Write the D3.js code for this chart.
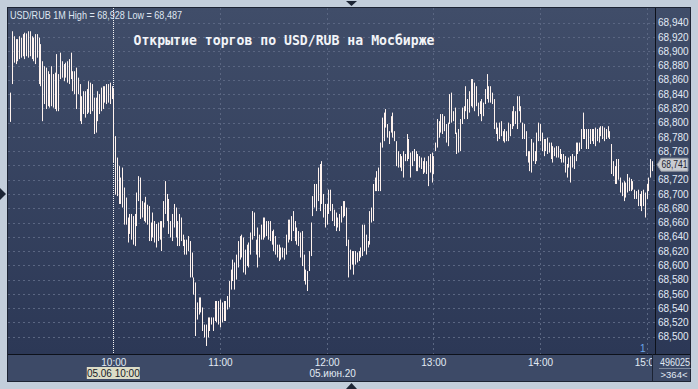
<!DOCTYPE html>
<html>
<head>
<meta charset="utf-8">
<script src="https://cdn.jsdelivr.net/npm/d3@7"></script>
<style>
  body { margin: 0; background: #c3cedb; }
  svg { display: block; }
</style>
</head>
<body>
<svg width="698" height="389"></svg>
<script>
// 1-minute bars, USD/RUB_TOM, high / low of each bar
const highs = [
  68.842,68.928,68.921,68.917,68.917,68.921,68.919,68.924,68.926,68.925,
  68.928,68.928,68.921,68.919,68.924,68.924,68.919,68.910,68.886,68.879,
  68.877,68.872,68.868,68.879,68.868,68.870,68.896,68.868,68.898,68.886,
  68.882,68.884,68.886,68.889,68.898,68.872,68.872,68.877,68.863,68.854,
  68.837,68.844,68.844,68.847,68.858,68.856,68.854,68.835,68.835,68.844,
  68.840,68.849,68.851,68.851,68.854,68.854,68.856,68.851,68.847,68.781,
  68.751,68.739,68.723,68.737,68.709,68.695,68.667,68.672,68.672,68.669,
  68.672,68.702,68.725,68.723,68.690,68.688,68.696,68.685,68.683,68.660,
  68.674,68.662,68.658,68.660,68.662,68.662,68.690,68.718,68.700,68.693,
  68.662,68.672,68.686,68.681,68.662,68.672,68.667,68.643,68.636,68.636,
  68.641,68.634,68.618,68.583,68.576,68.548,68.555,68.555,68.541,68.517,
  68.517,68.527,68.527,68.527,68.527,68.550,68.550,68.550,68.552,68.548,
  68.550,68.550,68.557,68.578,68.594,68.608,68.604,68.615,68.634,68.641,
  68.643,68.639,68.622,68.629,68.632,68.646,68.676,68.674,68.636,68.653,
  68.643,68.657,68.667,68.667,68.662,68.662,68.662,68.648,68.650,68.641,
  68.629,68.629,68.625,68.625,68.624,68.643,68.664,68.664,68.669,68.676,
  68.662,68.653,68.648,68.646,68.648,68.615,68.594,68.592,68.620,68.660,
  68.697,68.714,68.714,68.737,68.742,68.746,68.700,68.686,68.686,68.706,
  68.706,68.686,68.678,68.674,68.667,68.672,68.683,68.690,68.690,68.681,
  68.636,68.622,68.620,68.620,68.620,68.618,68.620,68.625,68.657,68.657,
  68.643,68.634,68.676,68.681,68.714,68.723,68.732,68.737,68.772,68.807,
  68.814,68.819,68.798,68.788,68.809,68.814,68.788,68.774,68.760,68.756,
  68.753,68.760,68.756,68.784,68.777,68.758,68.760,68.763,68.760,68.756,
  68.753,68.751,68.746,68.751,68.746,68.753,68.756,68.758,68.753,68.772,
  68.805,68.802,68.812,68.812,68.809,68.798,68.800,68.840,68.842,68.816,
  68.821,68.786,68.791,68.805,68.821,68.823,68.851,68.833,68.844,68.861,
  68.861,68.856,68.851,68.828,68.830,68.833,68.828,68.847,68.868,68.851,
  68.851,68.842,68.833,68.800,68.793,68.800,68.802,68.788,68.791,68.788,
  68.800,68.798,68.816,68.823,68.816,68.837,68.837,68.823,68.800,68.798,
  68.788,68.760,68.760,68.777,68.772,68.760,68.786,68.800,68.798,68.786,
  68.777,68.777,68.779,68.772,68.772,68.767,68.765,68.767,68.767,68.763,
  68.756,68.756,68.753,68.742,68.751,68.753,68.756,68.753,68.772,68.772,
  68.772,68.791,68.814,68.791,68.791,68.791,68.791,68.791,68.791,68.793,
  68.791,68.793,68.795,68.795,68.793,68.791,68.795,68.788,68.770,68.746,
  68.739,68.749,68.749,68.723,68.716,68.718,68.716,68.728,68.723,68.721,
  68.718,68.706,68.704,68.706,68.700,68.704,68.706,68.702,68.714,68.723,
  68.749,68.746
];
const lows = [
  68.801,68.854,68.884,68.882,68.886,68.889,68.891,68.893,68.889,68.893,
  68.891,68.893,68.889,68.886,68.882,68.891,68.854,68.851,68.802,68.826,
  68.819,68.823,68.821,68.823,68.821,68.819,68.816,68.816,68.861,68.863,
  68.858,68.863,68.856,68.854,68.861,68.844,68.840,68.819,68.840,68.802,
  68.798,68.812,68.807,68.812,68.814,68.812,68.816,68.784,68.786,68.802,
  68.812,68.816,68.819,68.828,68.826,68.828,68.826,68.833,68.744,68.699,
  68.697,68.686,68.686,68.681,68.657,68.657,68.632,68.644,68.636,68.629,
  68.627,68.655,68.690,68.665,68.667,68.662,68.660,68.657,68.634,68.634,
  68.639,68.632,68.625,68.634,68.636,68.620,68.653,68.672,68.662,68.644,
  68.639,68.634,68.653,68.639,68.627,68.627,68.634,68.627,68.615,68.615,
  68.620,68.583,68.583,68.559,68.501,68.524,68.531,68.534,68.508,68.499,
  68.487,68.499,68.508,68.517,68.508,68.522,68.520,68.517,68.513,68.520,
  68.522,68.522,68.538,68.541,68.566,68.578,68.566,68.580,68.597,68.608,
  68.611,68.590,68.587,68.599,68.597,68.615,68.636,68.641,68.615,68.597,
  68.611,68.636,68.636,68.639,68.641,68.636,68.634,68.629,68.620,68.615,
  68.611,68.606,68.608,68.611,68.608,68.615,68.632,68.636,68.634,68.648,
  68.634,68.629,68.627,68.611,68.599,68.578,68.573,68.564,68.592,68.613,
  68.669,68.681,68.676,68.690,68.676,68.686,68.667,68.653,68.657,68.672,
  68.676,68.662,68.655,68.648,68.653,68.648,68.660,68.667,68.669,68.627,
  68.583,68.594,68.601,68.587,68.601,68.604,68.606,68.611,68.613,68.620,
  68.615,68.625,68.629,68.660,68.662,68.704,68.704,68.704,68.704,68.765,
  68.774,68.793,68.779,68.770,68.786,68.779,68.774,68.739,68.737,68.737,
  68.732,68.723,68.746,68.746,68.749,68.723,68.739,68.746,68.732,68.732,
  68.737,68.735,68.728,68.730,68.728,68.711,68.730,68.716,68.728,68.760,
  68.765,68.779,68.786,68.784,68.788,68.772,68.767,68.798,68.800,68.802,
  68.784,68.756,68.758,68.760,68.798,68.805,68.816,68.805,68.814,68.823,
  68.821,68.816,68.823,68.809,68.812,68.802,68.809,68.826,68.833,68.828,
  68.828,68.826,68.791,68.784,68.774,68.777,68.781,68.774,68.772,68.774,
  68.774,68.781,68.791,68.795,68.798,68.791,68.816,68.800,68.777,68.777,
  68.753,68.744,68.732,68.730,68.746,68.742,68.746,68.774,68.774,68.760,
  68.753,68.760,68.756,68.758,68.749,68.744,68.753,68.751,68.751,68.749,
  68.744,68.744,68.730,68.723,68.737,68.716,68.737,68.735,68.746,68.756,
  68.760,68.763,68.777,68.777,68.763,68.763,68.770,68.774,68.770,68.767,
  68.774,68.772,68.781,68.777,68.774,68.777,68.779,68.777,68.728,68.725,
  68.714,68.714,68.720,68.702,68.697,68.690,68.695,68.702,68.704,68.704,
  68.706,68.693,68.693,68.683,68.683,68.676,68.683,68.667,68.693,68.704,
  68.723,68.732
];
// minutes relative to the 10:00 open; the first bars are the previous session
const firstMinute = -58;
const lastPrice = 68.741;

const priceTicks = [68.50, 68.52, 68.54, 68.56, 68.58, 68.60, 68.62, 68.64, 68.66, 68.68,
                    68.70, 68.72, 68.74, 68.76, 68.78, 68.80, 68.82, 68.84, 68.86, 68.88,
                    68.90, 68.92, 68.94];
const timeTicks = [0, 60, 120, 180, 240, 300];
const timeLabels = ["10:00", "11:00", "12:00", "13:00", "14:00", "15:00"];
const sessionLabel = "05.06 10:00";
const dateLabel = "05.июн.20";
const chartTitle = "Открытие торгов по USD/RUB на Мосбирже";
const barsCount = "496025";
const barsShown = ">364<";

const svg = d3.select("svg");
const font = "'Liberation Sans', Arial, sans-serif";
const fmt = d => d3.format(".3f")(d).replace(".", ",");

const pL = 8, pT = 8, pR = 655, pB = 354, panelR = 690, panelB = 381;

const x = d3.scaleLinear()
    .domain([firstMinute, firstMinute + highs.length - 1])
    .range([10.2, 652]);
const y = d3.scaleLinear()
    .domain([68.50, 68.94])
    .range([336.7, 22.7]);

// background
const defs = svg.append("defs");
const grad = defs.append("linearGradient")
    .attr("id", "bg").attr("x1", 0).attr("y1", 0).attr("x2", 0).attr("y2", 1);
grad.append("stop").attr("offset", "0%").attr("stop-color", "#404d69");
grad.append("stop").attr("offset", "100%").attr("stop-color", "#2c3856");
defs.append("clipPath").attr("id", "plotclip")
    .append("rect").attr("x", pL).attr("y", pT).attr("width", pR - pL).attr("height", pB - pT);
// in the translated axis group's own coordinates
defs.append("clipPath").attr("id", "xclip")
    .append("rect").attr("x", pL).attr("y", 0).attr("width", 652 - pL).attr("height", panelB - pB);

svg.append("rect").attr("width", 698).attr("height", 389).attr("fill", "#c3cedb");
svg.append("rect").attr("x", pL).attr("y", pT)
    .attr("width", panelR - pL).attr("height", pB - pT).attr("fill", "url(#bg)");
svg.append("rect").attr("x", pL).attr("y", pB)
    .attr("width", panelR - pL).attr("height", panelB - pB).attr("fill", "#3d4a67");

// frame lines
svg.append("rect").attr("x", pL - 0.5).attr("y", pT - 0.5)
    .attr("width", panelR - pL + 1).attr("height", panelB - pT + 1)
    .attr("fill", "none").attr("stroke", "#1c2333");
svg.append("line").attr("x1", pL).attr("x2", panelR).attr("y1", pB + 0.5).attr("y2", pB + 0.5)
    .attr("stroke", "#0d111a");
svg.append("line").attr("x1", pR + 0.5).attr("x2", pR + 0.5).attr("y1", pT).attr("y2", pB)
    .attr("stroke", "#0d111a");
svg.append("line").attr("x1", 652.5).attr("x2", 652.5).attr("y1", pB).attr("y2", panelB)
    .attr("stroke", "#1c2333");

// grid
const grid = svg.append("g").attr("clip-path", "url(#plotclip)");
grid.selectAll("line.h").data(priceTicks).enter().append("line")
    .attr("x1", pL).attr("x2", pR)
    .attr("y1", d => Math.round(y(d)) + 0.5).attr("y2", d => Math.round(y(d)) + 0.5)
    .attr("stroke", "#5a6682").attr("stroke-dasharray", "2,3");
grid.selectAll("line.v").data(timeTicks.slice(1)).enter().append("line")
    .attr("x1", d => Math.round(x(d)) + 0.5).attr("x2", d => Math.round(x(d)) + 0.5)
    .attr("y1", pT).attr("y2", pB)
    .attr("stroke", "#5a6682").attr("stroke-dasharray", "2,3");
grid.append("line")
    .attr("x1", Math.round(x(0)) + 0.5).attr("x2", Math.round(x(0)) + 0.5)
    .attr("y1", pT).attr("y2", pB)
    .attr("stroke", "#f4f4f4").attr("stroke-dasharray", "1,1");

// bars
const bars = highs.map((h, i) => ({ t: firstMinute + i, high: h, low: lows[i] }));
svg.append("g").attr("clip-path", "url(#plotclip)")
    .selectAll("line").data(bars).enter().append("line")
    .attr("x1", d => Math.round(x(d.t)) + 0.5).attr("x2", d => Math.round(x(d.t)) + 0.5)
    .attr("y1", d => y(d.high)).attr("y2", d => Math.max(y(d.low), y(d.high) + 1))
    .attr("stroke", "#fff3ee").attr("stroke-width", 1);

// price axis (the tick under the last-price marker is hidden by it)
const yAxis = svg.append("g").attr("transform", `translate(${pR + 1},0)`)
    .call(d3.axisRight(y)
        .tickValues(priceTicks.filter(d => Math.abs(y(d) - y(lastPrice)) > 8))
        .tickSize(0).tickPadding(2).tickFormat(fmt));
yAxis.select(".domain").remove();
yAxis.selectAll("text").attr("fill", "#e2eaf5").style("font-family", font).style("font-size", "10px");

// time axis
const xAxis = svg.append("g").attr("transform", `translate(0,${pB})`).attr("clip-path", "url(#xclip)")
    .call(d3.axisBottom(x).tickValues(timeTicks).tickSize(0).tickPadding(5).tickFormat((d, i) => timeLabels[i]));
xAxis.select(".domain").remove();
xAxis.selectAll("text").attr("fill", "#e2eaf5").style("font-family", font).style("font-size", "10px");

// session start label
svg.append("rect").attr("x", x(0) - 26.5).attr("y", 367).attr("width", 53).attr("height", 12)
    .attr("fill", "#dcdcc7");
svg.append("text").attr("x", x(0)).attr("y", 377).attr("text-anchor", "middle")
    .attr("fill", "#161b26").style("font-family", font).style("font-size", "10px").text(sessionLabel);
svg.append("text").attr("x", x(120) + 6).attr("y", 377).attr("text-anchor", "middle")
    .attr("fill", "#e2eaf5").style("font-family", font).style("font-size", "10px").text(dateLabel);

// last price marker
const ly = y(lastPrice);
svg.append("path")
    .attr("d", `M${pR + 2},${ly} L${pR + 6},${ly - 6.5} L${pR + 33},${ly - 6.5} L${pR + 33},${ly + 6.5} L${pR + 6},${ly + 6.5} Z`)
    .attr("fill", "#c9ccd2").attr("stroke", "#8d929c");
svg.append("text").attr("x", pR + 6.5).attr("y", ly + 3.6)
    .attr("textLength", 26).attr("lengthAdjust", "spacingAndGlyphs")
    .attr("fill", "#1d2330").style("font-family", font).style("font-size", "10px").text(fmt(lastPrice));

// header texts
svg.append("text").attr("x", 10).attr("y", 18.5)
    .attr("textLength", 172).attr("lengthAdjust", "spacingAndGlyphs")
    .attr("fill", "#dfe6f1").style("font-family", font).style("font-size", "10.5px")
    .text(`USD/RUB 1M High = ${fmt(d3.max(highs))} Low = ${fmt(d3.min(lows))}`);
svg.append("text").attr("x", 133.5).attr("y", 45)
    .attr("textLength", 301).attr("lengthAdjust", "spacingAndGlyphs")
    .attr("fill", "#f2f4f8").style("font-family", "'DejaVu Sans Mono', monospace")
    .style("font-size", "13.5px").style("font-weight", "bold")
    .text(chartTitle);

// bottom-right info
svg.append("text").attr("x", 640).attr("y", 351.5)
    .attr("fill", "#6aa6ea").style("font-family", font).style("font-size", "10px").text("1");
svg.append("text").attr("x", 660).attr("y", 366)
    .attr("textLength", 30).attr("lengthAdjust", "spacingAndGlyphs")
    .attr("fill", "#e2eaf5").style("font-family", font).style("font-size", "10px").text(barsCount);
svg.append("line").attr("x1", 659).attr("x2", 691).attr("y1", 368.5).attr("y2", 368.5).attr("stroke", "#7c879c");
svg.append("text").attr("x", 674).attr("y", 378).attr("text-anchor", "middle")
    .attr("fill", "#e2eaf5").style("font-family", font).style("font-size", "9.5px").text(barsShown);

// scroll arrows on the frame
svg.append("path").attr("d", "M346,1 L357,1 L351.5,6 Z").attr("fill", "#1d2535");
svg.append("path").attr("d", "M346,389 L357,389 L351.5,383 Z").attr("fill", "#1d2535");
svg.append("path").attr("d", "M0,188 L0,200 L6,194 Z").attr("fill", "#1d2535");
</script>
</body>
</html>
